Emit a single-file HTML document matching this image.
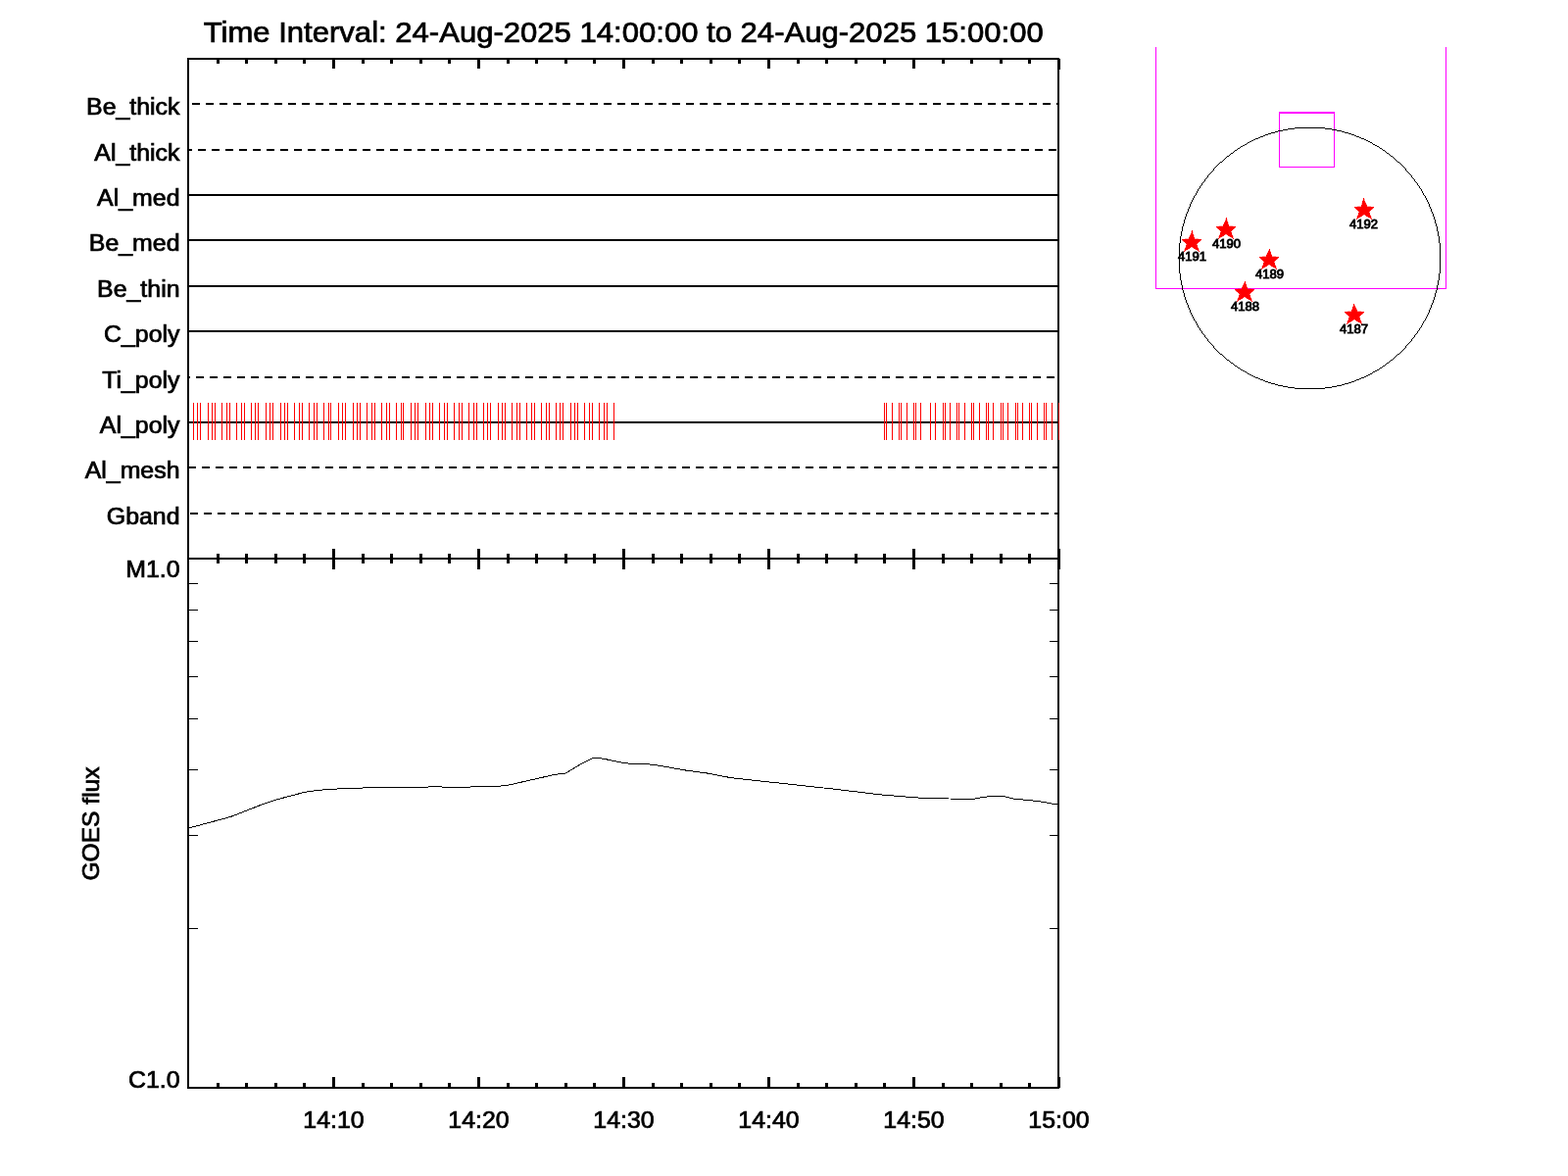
<!DOCTYPE html>
<html lang="en"><head><meta charset="utf-8"><title>XRT timeline</title>
<style>html,body{margin:0;padding:0;background:#fff}body{width:1600px;height:1200px;overflow:hidden}svg{display:block}text{font-family:"Liberation Sans",Arial,Helvetica,sans-serif;fill:#000;stroke:#000}</style></head><body>
<svg width="1600" height="1200" viewBox="0 0 1600 1200">
<rect width="1600" height="1200" fill="#fff"/>
<g shape-rendering="crispEdges">
<rect x="191" y="59" width="890" height="2" fill="#000"/>
<rect x="191" y="569" width="890" height="2" fill="#000"/>
<rect x="191" y="1109" width="890" height="2" fill="#000"/>
<rect x="191" y="59" width="2" height="1052" fill="#000"/>
<rect x="1079" y="59" width="2" height="1052" fill="#000"/>
<rect x="221" y="60" width="3" height="5" fill="#000"/>
<rect x="221" y="565" width="3" height="10" fill="#000"/>
<rect x="221" y="1105" width="3" height="5" fill="#000"/>
<rect x="250" y="60" width="3" height="5" fill="#000"/>
<rect x="250" y="565" width="3" height="10" fill="#000"/>
<rect x="250" y="1105" width="3" height="5" fill="#000"/>
<rect x="280" y="60" width="3" height="5" fill="#000"/>
<rect x="280" y="565" width="3" height="10" fill="#000"/>
<rect x="280" y="1105" width="3" height="5" fill="#000"/>
<rect x="309" y="60" width="3" height="5" fill="#000"/>
<rect x="309" y="565" width="3" height="10" fill="#000"/>
<rect x="309" y="1105" width="3" height="5" fill="#000"/>
<rect x="339" y="60" width="3" height="10" fill="#000"/>
<rect x="339" y="560" width="3" height="21" fill="#000"/>
<rect x="339" y="1099" width="3" height="11" fill="#000"/>
<rect x="369" y="60" width="3" height="5" fill="#000"/>
<rect x="369" y="565" width="3" height="10" fill="#000"/>
<rect x="369" y="1105" width="3" height="5" fill="#000"/>
<rect x="398" y="60" width="3" height="5" fill="#000"/>
<rect x="398" y="565" width="3" height="10" fill="#000"/>
<rect x="398" y="1105" width="3" height="5" fill="#000"/>
<rect x="428" y="60" width="3" height="5" fill="#000"/>
<rect x="428" y="565" width="3" height="10" fill="#000"/>
<rect x="428" y="1105" width="3" height="5" fill="#000"/>
<rect x="457" y="60" width="3" height="5" fill="#000"/>
<rect x="457" y="565" width="3" height="10" fill="#000"/>
<rect x="457" y="1105" width="3" height="5" fill="#000"/>
<rect x="487" y="60" width="3" height="10" fill="#000"/>
<rect x="487" y="560" width="3" height="21" fill="#000"/>
<rect x="487" y="1099" width="3" height="11" fill="#000"/>
<rect x="517" y="60" width="3" height="5" fill="#000"/>
<rect x="517" y="565" width="3" height="10" fill="#000"/>
<rect x="517" y="1105" width="3" height="5" fill="#000"/>
<rect x="546" y="60" width="3" height="5" fill="#000"/>
<rect x="546" y="565" width="3" height="10" fill="#000"/>
<rect x="546" y="1105" width="3" height="5" fill="#000"/>
<rect x="576" y="60" width="3" height="5" fill="#000"/>
<rect x="576" y="565" width="3" height="10" fill="#000"/>
<rect x="576" y="1105" width="3" height="5" fill="#000"/>
<rect x="605" y="60" width="3" height="5" fill="#000"/>
<rect x="605" y="565" width="3" height="10" fill="#000"/>
<rect x="605" y="1105" width="3" height="5" fill="#000"/>
<rect x="635" y="60" width="3" height="10" fill="#000"/>
<rect x="635" y="560" width="3" height="21" fill="#000"/>
<rect x="635" y="1099" width="3" height="11" fill="#000"/>
<rect x="665" y="60" width="3" height="5" fill="#000"/>
<rect x="665" y="565" width="3" height="10" fill="#000"/>
<rect x="665" y="1105" width="3" height="5" fill="#000"/>
<rect x="694" y="60" width="3" height="5" fill="#000"/>
<rect x="694" y="565" width="3" height="10" fill="#000"/>
<rect x="694" y="1105" width="3" height="5" fill="#000"/>
<rect x="724" y="60" width="3" height="5" fill="#000"/>
<rect x="724" y="565" width="3" height="10" fill="#000"/>
<rect x="724" y="1105" width="3" height="5" fill="#000"/>
<rect x="753" y="60" width="3" height="5" fill="#000"/>
<rect x="753" y="565" width="3" height="10" fill="#000"/>
<rect x="753" y="1105" width="3" height="5" fill="#000"/>
<rect x="783" y="60" width="3" height="10" fill="#000"/>
<rect x="783" y="560" width="3" height="21" fill="#000"/>
<rect x="783" y="1099" width="3" height="11" fill="#000"/>
<rect x="813" y="60" width="3" height="5" fill="#000"/>
<rect x="813" y="565" width="3" height="10" fill="#000"/>
<rect x="813" y="1105" width="3" height="5" fill="#000"/>
<rect x="842" y="60" width="3" height="5" fill="#000"/>
<rect x="842" y="565" width="3" height="10" fill="#000"/>
<rect x="842" y="1105" width="3" height="5" fill="#000"/>
<rect x="872" y="60" width="3" height="5" fill="#000"/>
<rect x="872" y="565" width="3" height="10" fill="#000"/>
<rect x="872" y="1105" width="3" height="5" fill="#000"/>
<rect x="901" y="60" width="3" height="5" fill="#000"/>
<rect x="901" y="565" width="3" height="10" fill="#000"/>
<rect x="901" y="1105" width="3" height="5" fill="#000"/>
<rect x="931" y="60" width="3" height="10" fill="#000"/>
<rect x="931" y="560" width="3" height="21" fill="#000"/>
<rect x="931" y="1099" width="3" height="11" fill="#000"/>
<rect x="961" y="60" width="3" height="5" fill="#000"/>
<rect x="961" y="565" width="3" height="10" fill="#000"/>
<rect x="961" y="1105" width="3" height="5" fill="#000"/>
<rect x="990" y="60" width="3" height="5" fill="#000"/>
<rect x="990" y="565" width="3" height="10" fill="#000"/>
<rect x="990" y="1105" width="3" height="5" fill="#000"/>
<rect x="1020" y="60" width="3" height="5" fill="#000"/>
<rect x="1020" y="565" width="3" height="10" fill="#000"/>
<rect x="1020" y="1105" width="3" height="5" fill="#000"/>
<rect x="1049" y="60" width="3" height="5" fill="#000"/>
<rect x="1049" y="565" width="3" height="10" fill="#000"/>
<rect x="1049" y="1105" width="3" height="5" fill="#000"/>
<rect x="1079" y="60" width="3" height="11" fill="#000"/>
<rect x="1079" y="560" width="3" height="21" fill="#000"/>
<rect x="1079" y="1099" width="3" height="11" fill="#000"/>
<rect x="192" y="947" width="10" height="1" fill="#000"/>
<rect x="1071" y="947" width="9" height="1" fill="#000"/>
<rect x="192" y="852" width="10" height="1" fill="#000"/>
<rect x="1071" y="852" width="9" height="1" fill="#000"/>
<rect x="192" y="785" width="10" height="1" fill="#000"/>
<rect x="1071" y="785" width="9" height="1" fill="#000"/>
<rect x="192" y="733" width="10" height="1" fill="#000"/>
<rect x="1071" y="733" width="9" height="1" fill="#000"/>
<rect x="192" y="690" width="10" height="1" fill="#000"/>
<rect x="1071" y="690" width="9" height="1" fill="#000"/>
<rect x="192" y="654" width="10" height="1" fill="#000"/>
<rect x="1071" y="654" width="9" height="1" fill="#000"/>
<rect x="192" y="622" width="10" height="1" fill="#000"/>
<rect x="1071" y="622" width="9" height="1" fill="#000"/>
<rect x="192" y="595" width="10" height="1" fill="#000"/>
<rect x="1071" y="595" width="9" height="1" fill="#000"/>
<rect x="196" y="105" width="8" height="2" fill="#000"/>
<rect x="210" y="105" width="8" height="2" fill="#000"/>
<rect x="224" y="105" width="8" height="2" fill="#000"/>
<rect x="238" y="105" width="8" height="2" fill="#000"/>
<rect x="252" y="105" width="8" height="2" fill="#000"/>
<rect x="266" y="105" width="8" height="2" fill="#000"/>
<rect x="280" y="105" width="8" height="2" fill="#000"/>
<rect x="294" y="105" width="8" height="2" fill="#000"/>
<rect x="308" y="105" width="8" height="2" fill="#000"/>
<rect x="322" y="105" width="8" height="2" fill="#000"/>
<rect x="336" y="105" width="8" height="2" fill="#000"/>
<rect x="350" y="105" width="8" height="2" fill="#000"/>
<rect x="364" y="105" width="8" height="2" fill="#000"/>
<rect x="378" y="105" width="8" height="2" fill="#000"/>
<rect x="392" y="105" width="8" height="2" fill="#000"/>
<rect x="406" y="105" width="8" height="2" fill="#000"/>
<rect x="420" y="105" width="8" height="2" fill="#000"/>
<rect x="434" y="105" width="8" height="2" fill="#000"/>
<rect x="448" y="105" width="8" height="2" fill="#000"/>
<rect x="462" y="105" width="8" height="2" fill="#000"/>
<rect x="476" y="105" width="8" height="2" fill="#000"/>
<rect x="490" y="105" width="8" height="2" fill="#000"/>
<rect x="504" y="105" width="8" height="2" fill="#000"/>
<rect x="518" y="105" width="8" height="2" fill="#000"/>
<rect x="532" y="105" width="8" height="2" fill="#000"/>
<rect x="546" y="105" width="8" height="2" fill="#000"/>
<rect x="560" y="105" width="8" height="2" fill="#000"/>
<rect x="574" y="105" width="8" height="2" fill="#000"/>
<rect x="588" y="105" width="8" height="2" fill="#000"/>
<rect x="602" y="105" width="8" height="2" fill="#000"/>
<rect x="616" y="105" width="8" height="2" fill="#000"/>
<rect x="630" y="105" width="8" height="2" fill="#000"/>
<rect x="644" y="105" width="8" height="2" fill="#000"/>
<rect x="658" y="105" width="8" height="2" fill="#000"/>
<rect x="672" y="105" width="8" height="2" fill="#000"/>
<rect x="686" y="105" width="8" height="2" fill="#000"/>
<rect x="700" y="105" width="8" height="2" fill="#000"/>
<rect x="714" y="105" width="8" height="2" fill="#000"/>
<rect x="728" y="105" width="8" height="2" fill="#000"/>
<rect x="742" y="105" width="8" height="2" fill="#000"/>
<rect x="756" y="105" width="8" height="2" fill="#000"/>
<rect x="770" y="105" width="8" height="2" fill="#000"/>
<rect x="784" y="105" width="8" height="2" fill="#000"/>
<rect x="798" y="105" width="8" height="2" fill="#000"/>
<rect x="812" y="105" width="8" height="2" fill="#000"/>
<rect x="826" y="105" width="8" height="2" fill="#000"/>
<rect x="840" y="105" width="8" height="2" fill="#000"/>
<rect x="854" y="105" width="8" height="2" fill="#000"/>
<rect x="868" y="105" width="8" height="2" fill="#000"/>
<rect x="882" y="105" width="8" height="2" fill="#000"/>
<rect x="896" y="105" width="8" height="2" fill="#000"/>
<rect x="910" y="105" width="8" height="2" fill="#000"/>
<rect x="924" y="105" width="8" height="2" fill="#000"/>
<rect x="938" y="105" width="8" height="2" fill="#000"/>
<rect x="952" y="105" width="8" height="2" fill="#000"/>
<rect x="966" y="105" width="8" height="2" fill="#000"/>
<rect x="980" y="105" width="8" height="2" fill="#000"/>
<rect x="994" y="105" width="8" height="2" fill="#000"/>
<rect x="1008" y="105" width="8" height="2" fill="#000"/>
<rect x="1022" y="105" width="8" height="2" fill="#000"/>
<rect x="1036" y="105" width="8" height="2" fill="#000"/>
<rect x="1050" y="105" width="8" height="2" fill="#000"/>
<rect x="1064" y="105" width="8" height="2" fill="#000"/>
<rect x="1078" y="105" width="1" height="2" fill="#000"/>
<rect x="193" y="152" width="3" height="2" fill="#000"/>
<rect x="202" y="152" width="8" height="2" fill="#000"/>
<rect x="216" y="152" width="8" height="2" fill="#000"/>
<rect x="230" y="152" width="8" height="2" fill="#000"/>
<rect x="244" y="152" width="8" height="2" fill="#000"/>
<rect x="258" y="152" width="8" height="2" fill="#000"/>
<rect x="272" y="152" width="8" height="2" fill="#000"/>
<rect x="286" y="152" width="8" height="2" fill="#000"/>
<rect x="300" y="152" width="8" height="2" fill="#000"/>
<rect x="314" y="152" width="8" height="2" fill="#000"/>
<rect x="328" y="152" width="8" height="2" fill="#000"/>
<rect x="342" y="152" width="8" height="2" fill="#000"/>
<rect x="356" y="152" width="8" height="2" fill="#000"/>
<rect x="370" y="152" width="8" height="2" fill="#000"/>
<rect x="384" y="152" width="8" height="2" fill="#000"/>
<rect x="398" y="152" width="8" height="2" fill="#000"/>
<rect x="412" y="152" width="8" height="2" fill="#000"/>
<rect x="426" y="152" width="8" height="2" fill="#000"/>
<rect x="440" y="152" width="8" height="2" fill="#000"/>
<rect x="454" y="152" width="8" height="2" fill="#000"/>
<rect x="468" y="152" width="8" height="2" fill="#000"/>
<rect x="482" y="152" width="8" height="2" fill="#000"/>
<rect x="496" y="152" width="8" height="2" fill="#000"/>
<rect x="510" y="152" width="8" height="2" fill="#000"/>
<rect x="524" y="152" width="8" height="2" fill="#000"/>
<rect x="538" y="152" width="8" height="2" fill="#000"/>
<rect x="552" y="152" width="8" height="2" fill="#000"/>
<rect x="566" y="152" width="8" height="2" fill="#000"/>
<rect x="580" y="152" width="8" height="2" fill="#000"/>
<rect x="594" y="152" width="8" height="2" fill="#000"/>
<rect x="608" y="152" width="8" height="2" fill="#000"/>
<rect x="622" y="152" width="8" height="2" fill="#000"/>
<rect x="636" y="152" width="8" height="2" fill="#000"/>
<rect x="650" y="152" width="8" height="2" fill="#000"/>
<rect x="664" y="152" width="8" height="2" fill="#000"/>
<rect x="678" y="152" width="8" height="2" fill="#000"/>
<rect x="692" y="152" width="8" height="2" fill="#000"/>
<rect x="706" y="152" width="8" height="2" fill="#000"/>
<rect x="720" y="152" width="8" height="2" fill="#000"/>
<rect x="734" y="152" width="8" height="2" fill="#000"/>
<rect x="748" y="152" width="8" height="2" fill="#000"/>
<rect x="762" y="152" width="8" height="2" fill="#000"/>
<rect x="776" y="152" width="8" height="2" fill="#000"/>
<rect x="790" y="152" width="8" height="2" fill="#000"/>
<rect x="804" y="152" width="8" height="2" fill="#000"/>
<rect x="818" y="152" width="8" height="2" fill="#000"/>
<rect x="832" y="152" width="8" height="2" fill="#000"/>
<rect x="846" y="152" width="8" height="2" fill="#000"/>
<rect x="860" y="152" width="8" height="2" fill="#000"/>
<rect x="874" y="152" width="8" height="2" fill="#000"/>
<rect x="888" y="152" width="8" height="2" fill="#000"/>
<rect x="902" y="152" width="8" height="2" fill="#000"/>
<rect x="916" y="152" width="8" height="2" fill="#000"/>
<rect x="930" y="152" width="8" height="2" fill="#000"/>
<rect x="944" y="152" width="8" height="2" fill="#000"/>
<rect x="958" y="152" width="8" height="2" fill="#000"/>
<rect x="972" y="152" width="8" height="2" fill="#000"/>
<rect x="986" y="152" width="8" height="2" fill="#000"/>
<rect x="1000" y="152" width="8" height="2" fill="#000"/>
<rect x="1014" y="152" width="8" height="2" fill="#000"/>
<rect x="1028" y="152" width="8" height="2" fill="#000"/>
<rect x="1042" y="152" width="8" height="2" fill="#000"/>
<rect x="1056" y="152" width="8" height="2" fill="#000"/>
<rect x="1070" y="152" width="8" height="2" fill="#000"/>
<rect x="192" y="198" width="888" height="2" fill="#000"/>
<rect x="192" y="244" width="888" height="2" fill="#000"/>
<rect x="192" y="291" width="888" height="2" fill="#000"/>
<rect x="192" y="337" width="888" height="2" fill="#000"/>
<rect x="193" y="384" width="1" height="2" fill="#000"/>
<rect x="200" y="384" width="8" height="2" fill="#000"/>
<rect x="214" y="384" width="8" height="2" fill="#000"/>
<rect x="228" y="384" width="8" height="2" fill="#000"/>
<rect x="242" y="384" width="8" height="2" fill="#000"/>
<rect x="256" y="384" width="8" height="2" fill="#000"/>
<rect x="270" y="384" width="8" height="2" fill="#000"/>
<rect x="284" y="384" width="8" height="2" fill="#000"/>
<rect x="298" y="384" width="8" height="2" fill="#000"/>
<rect x="312" y="384" width="8" height="2" fill="#000"/>
<rect x="326" y="384" width="8" height="2" fill="#000"/>
<rect x="340" y="384" width="8" height="2" fill="#000"/>
<rect x="354" y="384" width="8" height="2" fill="#000"/>
<rect x="368" y="384" width="8" height="2" fill="#000"/>
<rect x="382" y="384" width="8" height="2" fill="#000"/>
<rect x="396" y="384" width="8" height="2" fill="#000"/>
<rect x="410" y="384" width="8" height="2" fill="#000"/>
<rect x="424" y="384" width="8" height="2" fill="#000"/>
<rect x="438" y="384" width="8" height="2" fill="#000"/>
<rect x="452" y="384" width="8" height="2" fill="#000"/>
<rect x="466" y="384" width="8" height="2" fill="#000"/>
<rect x="480" y="384" width="8" height="2" fill="#000"/>
<rect x="494" y="384" width="8" height="2" fill="#000"/>
<rect x="508" y="384" width="8" height="2" fill="#000"/>
<rect x="522" y="384" width="8" height="2" fill="#000"/>
<rect x="536" y="384" width="8" height="2" fill="#000"/>
<rect x="550" y="384" width="8" height="2" fill="#000"/>
<rect x="564" y="384" width="8" height="2" fill="#000"/>
<rect x="578" y="384" width="8" height="2" fill="#000"/>
<rect x="592" y="384" width="8" height="2" fill="#000"/>
<rect x="606" y="384" width="8" height="2" fill="#000"/>
<rect x="620" y="384" width="8" height="2" fill="#000"/>
<rect x="634" y="384" width="8" height="2" fill="#000"/>
<rect x="648" y="384" width="8" height="2" fill="#000"/>
<rect x="662" y="384" width="8" height="2" fill="#000"/>
<rect x="676" y="384" width="8" height="2" fill="#000"/>
<rect x="690" y="384" width="8" height="2" fill="#000"/>
<rect x="704" y="384" width="8" height="2" fill="#000"/>
<rect x="718" y="384" width="8" height="2" fill="#000"/>
<rect x="732" y="384" width="8" height="2" fill="#000"/>
<rect x="746" y="384" width="8" height="2" fill="#000"/>
<rect x="760" y="384" width="8" height="2" fill="#000"/>
<rect x="774" y="384" width="8" height="2" fill="#000"/>
<rect x="788" y="384" width="8" height="2" fill="#000"/>
<rect x="802" y="384" width="8" height="2" fill="#000"/>
<rect x="816" y="384" width="8" height="2" fill="#000"/>
<rect x="830" y="384" width="8" height="2" fill="#000"/>
<rect x="844" y="384" width="8" height="2" fill="#000"/>
<rect x="858" y="384" width="8" height="2" fill="#000"/>
<rect x="872" y="384" width="8" height="2" fill="#000"/>
<rect x="886" y="384" width="8" height="2" fill="#000"/>
<rect x="900" y="384" width="8" height="2" fill="#000"/>
<rect x="914" y="384" width="8" height="2" fill="#000"/>
<rect x="928" y="384" width="8" height="2" fill="#000"/>
<rect x="942" y="384" width="8" height="2" fill="#000"/>
<rect x="956" y="384" width="8" height="2" fill="#000"/>
<rect x="970" y="384" width="8" height="2" fill="#000"/>
<rect x="984" y="384" width="8" height="2" fill="#000"/>
<rect x="998" y="384" width="8" height="2" fill="#000"/>
<rect x="1012" y="384" width="8" height="2" fill="#000"/>
<rect x="1026" y="384" width="8" height="2" fill="#000"/>
<rect x="1040" y="384" width="8" height="2" fill="#000"/>
<rect x="1054" y="384" width="8" height="2" fill="#000"/>
<rect x="1068" y="384" width="8" height="2" fill="#000"/>
<rect x="192" y="430" width="888" height="2" fill="#000"/>
<rect x="193" y="476" width="7" height="2" fill="#000"/>
<rect x="206" y="476" width="8" height="2" fill="#000"/>
<rect x="220" y="476" width="8" height="2" fill="#000"/>
<rect x="234" y="476" width="8" height="2" fill="#000"/>
<rect x="248" y="476" width="8" height="2" fill="#000"/>
<rect x="262" y="476" width="8" height="2" fill="#000"/>
<rect x="276" y="476" width="8" height="2" fill="#000"/>
<rect x="290" y="476" width="8" height="2" fill="#000"/>
<rect x="304" y="476" width="8" height="2" fill="#000"/>
<rect x="318" y="476" width="8" height="2" fill="#000"/>
<rect x="332" y="476" width="8" height="2" fill="#000"/>
<rect x="346" y="476" width="8" height="2" fill="#000"/>
<rect x="360" y="476" width="8" height="2" fill="#000"/>
<rect x="374" y="476" width="8" height="2" fill="#000"/>
<rect x="388" y="476" width="8" height="2" fill="#000"/>
<rect x="402" y="476" width="8" height="2" fill="#000"/>
<rect x="416" y="476" width="8" height="2" fill="#000"/>
<rect x="430" y="476" width="8" height="2" fill="#000"/>
<rect x="444" y="476" width="8" height="2" fill="#000"/>
<rect x="458" y="476" width="8" height="2" fill="#000"/>
<rect x="472" y="476" width="8" height="2" fill="#000"/>
<rect x="486" y="476" width="8" height="2" fill="#000"/>
<rect x="500" y="476" width="8" height="2" fill="#000"/>
<rect x="514" y="476" width="8" height="2" fill="#000"/>
<rect x="528" y="476" width="8" height="2" fill="#000"/>
<rect x="542" y="476" width="8" height="2" fill="#000"/>
<rect x="556" y="476" width="8" height="2" fill="#000"/>
<rect x="570" y="476" width="8" height="2" fill="#000"/>
<rect x="584" y="476" width="8" height="2" fill="#000"/>
<rect x="598" y="476" width="8" height="2" fill="#000"/>
<rect x="612" y="476" width="8" height="2" fill="#000"/>
<rect x="626" y="476" width="8" height="2" fill="#000"/>
<rect x="640" y="476" width="8" height="2" fill="#000"/>
<rect x="654" y="476" width="8" height="2" fill="#000"/>
<rect x="668" y="476" width="8" height="2" fill="#000"/>
<rect x="682" y="476" width="8" height="2" fill="#000"/>
<rect x="696" y="476" width="8" height="2" fill="#000"/>
<rect x="710" y="476" width="8" height="2" fill="#000"/>
<rect x="724" y="476" width="8" height="2" fill="#000"/>
<rect x="738" y="476" width="8" height="2" fill="#000"/>
<rect x="752" y="476" width="8" height="2" fill="#000"/>
<rect x="766" y="476" width="8" height="2" fill="#000"/>
<rect x="780" y="476" width="8" height="2" fill="#000"/>
<rect x="794" y="476" width="8" height="2" fill="#000"/>
<rect x="808" y="476" width="8" height="2" fill="#000"/>
<rect x="822" y="476" width="8" height="2" fill="#000"/>
<rect x="836" y="476" width="8" height="2" fill="#000"/>
<rect x="850" y="476" width="8" height="2" fill="#000"/>
<rect x="864" y="476" width="8" height="2" fill="#000"/>
<rect x="878" y="476" width="8" height="2" fill="#000"/>
<rect x="892" y="476" width="8" height="2" fill="#000"/>
<rect x="906" y="476" width="8" height="2" fill="#000"/>
<rect x="920" y="476" width="8" height="2" fill="#000"/>
<rect x="934" y="476" width="8" height="2" fill="#000"/>
<rect x="948" y="476" width="8" height="2" fill="#000"/>
<rect x="962" y="476" width="8" height="2" fill="#000"/>
<rect x="976" y="476" width="8" height="2" fill="#000"/>
<rect x="990" y="476" width="8" height="2" fill="#000"/>
<rect x="1004" y="476" width="8" height="2" fill="#000"/>
<rect x="1018" y="476" width="8" height="2" fill="#000"/>
<rect x="1032" y="476" width="8" height="2" fill="#000"/>
<rect x="1046" y="476" width="8" height="2" fill="#000"/>
<rect x="1060" y="476" width="8" height="2" fill="#000"/>
<rect x="1074" y="476" width="5" height="2" fill="#000"/>
<rect x="194" y="523" width="8" height="2" fill="#000"/>
<rect x="208" y="523" width="8" height="2" fill="#000"/>
<rect x="222" y="523" width="8" height="2" fill="#000"/>
<rect x="236" y="523" width="8" height="2" fill="#000"/>
<rect x="250" y="523" width="8" height="2" fill="#000"/>
<rect x="264" y="523" width="8" height="2" fill="#000"/>
<rect x="278" y="523" width="8" height="2" fill="#000"/>
<rect x="292" y="523" width="8" height="2" fill="#000"/>
<rect x="306" y="523" width="8" height="2" fill="#000"/>
<rect x="320" y="523" width="8" height="2" fill="#000"/>
<rect x="334" y="523" width="8" height="2" fill="#000"/>
<rect x="348" y="523" width="8" height="2" fill="#000"/>
<rect x="362" y="523" width="8" height="2" fill="#000"/>
<rect x="376" y="523" width="8" height="2" fill="#000"/>
<rect x="390" y="523" width="8" height="2" fill="#000"/>
<rect x="404" y="523" width="8" height="2" fill="#000"/>
<rect x="418" y="523" width="8" height="2" fill="#000"/>
<rect x="432" y="523" width="8" height="2" fill="#000"/>
<rect x="446" y="523" width="8" height="2" fill="#000"/>
<rect x="460" y="523" width="8" height="2" fill="#000"/>
<rect x="474" y="523" width="8" height="2" fill="#000"/>
<rect x="488" y="523" width="8" height="2" fill="#000"/>
<rect x="502" y="523" width="8" height="2" fill="#000"/>
<rect x="516" y="523" width="8" height="2" fill="#000"/>
<rect x="530" y="523" width="8" height="2" fill="#000"/>
<rect x="544" y="523" width="8" height="2" fill="#000"/>
<rect x="558" y="523" width="8" height="2" fill="#000"/>
<rect x="572" y="523" width="8" height="2" fill="#000"/>
<rect x="586" y="523" width="8" height="2" fill="#000"/>
<rect x="600" y="523" width="8" height="2" fill="#000"/>
<rect x="614" y="523" width="8" height="2" fill="#000"/>
<rect x="628" y="523" width="8" height="2" fill="#000"/>
<rect x="642" y="523" width="8" height="2" fill="#000"/>
<rect x="656" y="523" width="8" height="2" fill="#000"/>
<rect x="670" y="523" width="8" height="2" fill="#000"/>
<rect x="684" y="523" width="8" height="2" fill="#000"/>
<rect x="698" y="523" width="8" height="2" fill="#000"/>
<rect x="712" y="523" width="8" height="2" fill="#000"/>
<rect x="726" y="523" width="8" height="2" fill="#000"/>
<rect x="740" y="523" width="8" height="2" fill="#000"/>
<rect x="754" y="523" width="8" height="2" fill="#000"/>
<rect x="768" y="523" width="8" height="2" fill="#000"/>
<rect x="782" y="523" width="8" height="2" fill="#000"/>
<rect x="796" y="523" width="8" height="2" fill="#000"/>
<rect x="810" y="523" width="8" height="2" fill="#000"/>
<rect x="824" y="523" width="8" height="2" fill="#000"/>
<rect x="838" y="523" width="8" height="2" fill="#000"/>
<rect x="852" y="523" width="8" height="2" fill="#000"/>
<rect x="866" y="523" width="8" height="2" fill="#000"/>
<rect x="880" y="523" width="8" height="2" fill="#000"/>
<rect x="894" y="523" width="8" height="2" fill="#000"/>
<rect x="908" y="523" width="8" height="2" fill="#000"/>
<rect x="922" y="523" width="8" height="2" fill="#000"/>
<rect x="936" y="523" width="8" height="2" fill="#000"/>
<rect x="950" y="523" width="8" height="2" fill="#000"/>
<rect x="964" y="523" width="8" height="2" fill="#000"/>
<rect x="978" y="523" width="8" height="2" fill="#000"/>
<rect x="992" y="523" width="8" height="2" fill="#000"/>
<rect x="1006" y="523" width="8" height="2" fill="#000"/>
<rect x="1020" y="523" width="8" height="2" fill="#000"/>
<rect x="1034" y="523" width="8" height="2" fill="#000"/>
<rect x="1048" y="523" width="8" height="2" fill="#000"/>
<rect x="1062" y="523" width="8" height="2" fill="#000"/>
<rect x="1076" y="523" width="3" height="2" fill="#000"/>
</g>
<path d="M197.5 411V449M201.5 411V449M204.5 411V449M212.5 411V449M216.5 411V449M219.5 411V449M226.5 411V449M231.5 411V449M234.5 411V449M241.5 411V449M246.5 411V449M249.5 411V449M256.5 411V449M260.5 411V449M263.5 411V449M271.5 411V449M275.5 411V449M278.5 411V449M286.5 411V449M290.5 411V449M293.5 411V449M300.5 411V449M305.5 411V449M308.5 411V449M315.5 411V449M320.5 411V449M323.5 411V449M330.5 411V449M335.5 411V449M337.5 411V449M345.5 411V449M349.5 411V449M352.5 411V449M360.5 411V449M364.5 411V449M367.5 411V449M374.5 411V449M379.5 411V449M382.5 411V449M389.5 411V449M394.5 411V449M397.5 411V449M404.5 411V449M409.5 411V449M411.5 411V449M419.5 411V449M423.5 411V449M426.5 411V449M434.5 411V449M438.5 411V449M441.5 411V449M448.5 411V449M453.5 411V449M456.5 411V449M463.5 411V449M468.5 411V449M471.5 411V449M478.5 411V449M483.5 411V449M486.5 411V449M493.5 411V449M497.5 411V449M500.5 411V449M508.5 411V449M512.5 411V449M515.5 411V449M522.5 411V449M527.5 411V449M530.5 411V449M537.5 411V449M542.5 411V449M545.5 411V449M552.5 411V449M557.5 411V449M560.5 411V449M567.5 411V449M571.5 411V449M574.5 411V449M582.5 411V449M586.5 411V449M589.5 411V449M596.5 411V449M601.5 411V449M604.5 411V449M611.5 411V449M616.5 411V449M619.5 411V449M626.5 411V449M902.5 411V449M904.5 411V449M910.5 411V449M917.5 411V449M919.5 411V449M925.5 411V449M932.5 411V449M934.5 411V449M939.5 411V449M949.5 411V449M954.5 411V449M962.5 411V449M964.5 411V449M969.5 411V449M976.5 411V449M978.5 411V449M984.5 411V449M991.5 411V449M993.5 411V449M999.5 411V449M1006.5 411V449M1008.5 411V449M1013.5 411V449M1021.5 411V449M1023.5 411V449M1028.5 411V449M1036.5 411V449M1038.5 411V449M1043.5 411V449M1050.5 411V449M1052.5 411V449M1058.5 411V449M1065.5 411V449M1067.5 411V449M1073.5 411V449M1080.5 411V449" stroke="#f00" stroke-width="1" fill="none" shape-rendering="crispEdges"/>
<polyline fill="none" stroke="#000" stroke-width="1" shape-rendering="crispEdges" points="192.5,845 235.6,833.4 265.6,821.6 282.5,815.9 310.6,808.4 323.75,806.4 348.1,804.7 378.1,803.75 436,803.6 437.5,802.4 450,802.4 451.5,803.5 479,803.4 482,802.5 510.3,802.1 519.7,800.9 566.6,790.25 576.9,789.3 593.75,779 605.9,773.2 608.75,773.2 618.1,774.7 635,778.25 644.4,779.4 657.5,779.4 669.7,780.7 698.75,785.9 722.2,789.1 745.6,793.6 770,796.4 790,798.5 851.9,805.25 898.75,810.9 925,813.1 940,814.25 968.1,815 994.4,815.2 1002.8,813.5 1015,812.2 1023.4,812.2 1033.75,815 1060,817.6 1078.75,821"/>
<text transform="translate(183.5,117) scale(1.0545,1)" font-size="23.6" text-anchor="end" stroke-width="0.75">Be_thick</text>
<text transform="translate(183.5,164) scale(1.0545,1)" font-size="23.6" text-anchor="end" stroke-width="0.75">Al_thick</text>
<text transform="translate(183.5,210) scale(1.0545,1)" font-size="23.6" text-anchor="end" stroke-width="0.75">Al_med</text>
<text transform="translate(183.5,256) scale(1.0545,1)" font-size="23.6" text-anchor="end" stroke-width="0.75">Be_med</text>
<text transform="translate(183.5,303) scale(1.0545,1)" font-size="23.6" text-anchor="end" stroke-width="0.75">Be_thin</text>
<text transform="translate(183.5,349) scale(1.0545,1)" font-size="23.6" text-anchor="end" stroke-width="0.75">C_poly</text>
<text transform="translate(183.5,396) scale(1.0545,1)" font-size="23.6" text-anchor="end" stroke-width="0.75">Ti_poly</text>
<text transform="translate(183.5,442) scale(1.0545,1)" font-size="23.6" text-anchor="end" stroke-width="0.75">Al_poly</text>
<text transform="translate(183.5,488) scale(1.0545,1)" font-size="23.6" text-anchor="end" stroke-width="0.75">Al_mesh</text>
<text transform="translate(183.5,535) scale(1.0545,1)" font-size="23.6" text-anchor="end" stroke-width="0.75">Gband</text>
<text transform="translate(183.5,589) scale(1.0545,1)" font-size="23.6" text-anchor="end" stroke-width="0.75">M1.0</text>
<text transform="translate(183.5,1109.5) scale(1.0545,1)" font-size="23.6" text-anchor="end" stroke-width="0.75">C1.0</text>
<text transform="translate(340.5,1151) scale(1.0545,1)" font-size="23.6" text-anchor="middle" stroke-width="0.75">14:10</text>
<text transform="translate(488.5,1151) scale(1.0545,1)" font-size="23.6" text-anchor="middle" stroke-width="0.75">14:20</text>
<text transform="translate(636.5,1151) scale(1.0545,1)" font-size="23.6" text-anchor="middle" stroke-width="0.75">14:30</text>
<text transform="translate(784.5,1151) scale(1.0545,1)" font-size="23.6" text-anchor="middle" stroke-width="0.75">14:40</text>
<text transform="translate(932.5,1151) scale(1.0545,1)" font-size="23.6" text-anchor="middle" stroke-width="0.75">14:50</text>
<text transform="translate(1080.5,1151) scale(1.0545,1)" font-size="23.6" text-anchor="middle" stroke-width="0.75">15:00</text>
<text transform="translate(100.6,840.5) rotate(-90) scale(1.042,1)" font-size="23.6" text-anchor="middle" stroke-width="0.75">GOES flux</text>
<text transform="translate(636.2,42.8) scale(1.057,1)" font-size="29.4" text-anchor="middle" stroke-width="0.75">Time Interval: 24-Aug-2025 14:00:00 to 24-Aug-2025 15:00:00</text>
<g shape-rendering="crispEdges" fill="none" stroke-width="1">
<path d="M1179.5 48V294.5H1475.5V48" stroke="#f0f"/>
<rect x="1305.5" y="115.5" width="56" height="55" stroke="#f0f"/>
<path d="M1305 114.5H1362" stroke="#f0f"/>

</g>
<path fill="#000" shape-rendering="crispEdges" d="M1321 130h31v1h-31zM1314 131h7v1h-7zM1352 131h7v1h-7zM1309 132h5v1h-5zM1359 132h5v1h-5zM1304 133h5v1h-5zM1364 133h5v1h-5zM1301 134h3v1h-3zM1369 134h3v1h-3zM1297 135h4v1h-4zM1372 135h4v1h-4zM1294 136h3v1h-3zM1376 136h3v1h-3zM1291 137h3v1h-3zM1379 137h3v1h-3zM1289 138h2v1h-2zM1382 138h2v1h-2zM1286 139h3v1h-3zM1384 139h3v1h-3zM1284 140h2v1h-2zM1387 140h2v1h-2zM1281 141h3v1h-3zM1389 141h3v1h-3zM1279 142h2v1h-2zM1392 142h2v1h-2zM1277 143h2v1h-2zM1394 143h2v1h-2zM1275 144h2v1h-2zM1396 144h2v1h-2zM1273 145h2v1h-2zM1398 145h2v1h-2zM1272 146h1v1h-1zM1400 146h1v1h-1zM1270 147h2v1h-2zM1401 147h2v1h-2zM1268 148h2v1h-2zM1403 148h2v1h-2zM1266 149h2v1h-2zM1405 149h2v1h-2zM1265 150h1v1h-1zM1407 150h1v1h-1zM1263 151h2v1h-2zM1408 151h2v1h-2zM1262 152h1v1h-1zM1410 152h1v1h-1zM1260 153h2v1h-2zM1411 153h2v1h-2zM1259 154h1v1h-1zM1413 154h1v1h-1zM1258 155h1v1h-1zM1414 155h1v1h-1zM1256 156h2v1h-2zM1415 156h2v1h-2zM1255 157h1v1h-1zM1417 157h1v1h-1zM1254 158h1v1h-1zM1418 158h1v1h-1zM1252 159h2v1h-2zM1419 159h2v1h-2zM1251 160h1v1h-1zM1421 160h1v1h-1zM1250 161h1v1h-1zM1422 161h1v1h-1zM1249 162h1v1h-1zM1423 162h1v1h-1zM1248 163h1v1h-1zM1424 163h1v1h-1zM1247 164h1v1h-1zM1425 164h1v1h-1zM1245 165h2v1h-2zM1426 165h2v1h-2zM1244 166h1v1h-1zM1428 166h1v1h-1zM1243 167h1v1h-1zM1429 167h1v1h-1zM1242 168h1v1h-1zM1430 168h1v1h-1zM1241 169h1v1h-1zM1431 169h1v1h-1zM1240 170h1v1h-1zM1432 170h1v1h-1zM1239 171h1v1h-1zM1433 171h1v1h-1zM1238 172h1v1h-1zM1434 172h1v1h-1zM1238 173h1v1h-1zM1434 173h1v1h-1zM1237 174h1v1h-1zM1435 174h1v1h-1zM1236 175h1v1h-1zM1436 175h1v1h-1zM1235 176h1v1h-1zM1437 176h1v1h-1zM1234 177h1v1h-1zM1438 177h1v1h-1zM1233 178h1v1h-1zM1439 178h1v1h-1zM1232 179h1v1h-1zM1440 179h1v1h-1zM1232 180h1v1h-1zM1440 180h1v1h-1zM1231 181h1v1h-1zM1441 181h1v1h-1zM1230 182h1v1h-1zM1442 182h1v1h-1zM1229 183h1v1h-1zM1443 183h1v1h-1zM1229 184h1v1h-1zM1443 184h1v1h-1zM1228 185h1v1h-1zM1444 185h1v1h-1zM1227 186h1v1h-1zM1445 186h1v1h-1zM1226 187h1v1h-1zM1446 187h1v1h-1zM1226 188h1v1h-1zM1446 188h1v1h-1zM1225 189h1v1h-1zM1447 189h1v1h-1zM1224 190h1v1h-1zM1448 190h1v1h-1zM1224 191h1v1h-1zM1448 191h1v1h-1zM1223 192h1v1h-1zM1449 192h1v1h-1zM1222 193h1v1h-1zM1450 193h1v1h-1zM1222 194h1v1h-1zM1450 194h1v1h-1zM1221 195h1v1h-1zM1451 195h1v1h-1zM1221 196h1v1h-1zM1451 196h1v1h-1zM1220 197h1v1h-1zM1452 197h1v1h-1zM1220 198h1v1h-1zM1452 198h1v1h-1zM1219 199h1v1h-1zM1453 199h1v1h-1zM1218 200h1v1h-1zM1454 200h1v1h-1zM1218 201h1v1h-1zM1454 201h1v1h-1zM1217 202h1v1h-1zM1455 202h1v1h-1zM1217 203h1v1h-1zM1455 203h1v1h-1zM1216 204h1v1h-1zM1456 204h1v1h-1zM1216 205h1v1h-1zM1456 205h1v1h-1zM1215 206h1v1h-1zM1457 206h1v1h-1zM1215 207h1v1h-1zM1457 207h1v1h-1zM1214 208h1v1h-1zM1458 208h1v1h-1zM1214 209h1v1h-1zM1458 209h1v1h-1zM1214 210h1v1h-1zM1458 210h1v1h-1zM1213 211h1v1h-1zM1459 211h1v1h-1zM1213 212h1v1h-1zM1459 212h1v1h-1zM1212 213h1v1h-1zM1460 213h1v1h-1zM1212 214h1v1h-1zM1460 214h1v1h-1zM1212 215h1v1h-1zM1460 215h1v1h-1zM1211 216h1v1h-1zM1461 216h1v1h-1zM1211 217h1v1h-1zM1461 217h1v1h-1zM1210 218h1v1h-1zM1462 218h1v1h-1zM1210 219h1v1h-1zM1462 219h1v1h-1zM1210 220h1v1h-1zM1462 220h1v1h-1zM1209 221h1v1h-1zM1463 221h1v1h-1zM1209 222h1v1h-1zM1463 222h1v1h-1zM1209 223h1v1h-1zM1463 223h1v1h-1zM1208 224h1v1h-1zM1464 224h1v1h-1zM1208 225h1v1h-1zM1464 225h1v1h-1zM1208 226h1v1h-1zM1464 226h1v1h-1zM1208 227h1v1h-1zM1464 227h1v1h-1zM1207 228h1v1h-1zM1465 228h1v1h-1zM1207 229h1v1h-1zM1465 229h1v1h-1zM1207 230h1v1h-1zM1465 230h1v1h-1zM1206 231h1v1h-1zM1466 231h1v1h-1zM1206 232h1v1h-1zM1466 232h1v1h-1zM1206 233h1v1h-1zM1466 233h1v1h-1zM1206 234h1v1h-1zM1466 234h1v1h-1zM1206 235h1v1h-1zM1466 235h1v1h-1zM1205 236h1v1h-1zM1467 236h1v1h-1zM1205 237h1v1h-1zM1467 237h1v1h-1zM1205 238h1v1h-1zM1467 238h1v1h-1zM1205 239h1v1h-1zM1467 239h1v1h-1zM1205 240h1v1h-1zM1467 240h1v1h-1zM1204 241h1v1h-1zM1468 241h1v1h-1zM1204 242h1v1h-1zM1468 242h1v1h-1zM1204 243h1v1h-1zM1468 243h1v1h-1zM1204 244h1v1h-1zM1468 244h1v1h-1zM1204 245h1v1h-1zM1468 245h1v1h-1zM1204 246h1v1h-1zM1468 246h1v1h-1zM1204 247h1v1h-1zM1468 247h1v1h-1zM1203 248h1v1h-1zM1469 248h1v1h-1zM1203 249h1v1h-1zM1469 249h1v1h-1zM1203 250h1v1h-1zM1469 250h1v1h-1zM1203 251h1v1h-1zM1469 251h1v1h-1zM1203 252h1v1h-1zM1469 252h1v1h-1zM1203 253h1v1h-1zM1469 253h1v1h-1zM1203 254h1v1h-1zM1469 254h1v1h-1zM1203 255h1v1h-1zM1469 255h1v1h-1zM1203 256h1v1h-1zM1469 256h1v1h-1zM1203 257h1v1h-1zM1469 257h1v1h-1zM1203 258h1v1h-1zM1469 258h1v1h-1zM1203 259h1v1h-1zM1469 259h1v1h-1zM1203 260h1v1h-1zM1469 260h1v1h-1zM1203 261h1v1h-1zM1469 261h1v1h-1zM1203 262h1v1h-1zM1469 262h1v1h-1zM1203 263h1v1h-1zM1469 263h1v1h-1zM1203 264h1v1h-1zM1469 264h1v1h-1zM1203 265h1v1h-1zM1469 265h1v1h-1zM1203 266h1v1h-1zM1469 266h1v1h-1zM1203 267h1v1h-1zM1469 267h1v1h-1zM1203 268h1v1h-1zM1469 268h1v1h-1zM1203 269h1v1h-1zM1469 269h1v1h-1zM1203 270h1v1h-1zM1469 270h1v1h-1zM1203 271h1v1h-1zM1469 271h1v1h-1zM1203 272h1v1h-1zM1469 272h1v1h-1zM1203 273h1v1h-1zM1469 273h1v1h-1zM1203 274h1v1h-1zM1469 274h1v1h-1zM1203 275h1v1h-1zM1469 275h1v1h-1zM1203 276h1v1h-1zM1469 276h1v1h-1zM1203 277h1v1h-1zM1469 277h1v1h-1zM1203 278h1v1h-1zM1469 278h1v1h-1zM1204 279h1v1h-1zM1468 279h1v1h-1zM1204 280h1v1h-1zM1468 280h1v1h-1zM1204 281h1v1h-1zM1468 281h1v1h-1zM1204 282h1v1h-1zM1468 282h1v1h-1zM1204 283h1v1h-1zM1468 283h1v1h-1zM1204 284h1v1h-1zM1468 284h1v1h-1zM1204 285h1v1h-1zM1468 285h1v1h-1zM1205 286h1v1h-1zM1467 286h1v1h-1zM1205 287h1v1h-1zM1467 287h1v1h-1zM1205 288h1v1h-1zM1467 288h1v1h-1zM1205 289h1v1h-1zM1467 289h1v1h-1zM1205 290h1v1h-1zM1467 290h1v1h-1zM1206 291h1v1h-1zM1466 291h1v1h-1zM1206 292h1v1h-1zM1466 292h1v1h-1zM1206 293h1v1h-1zM1466 293h1v1h-1zM1206 294h1v1h-1zM1466 294h1v1h-1zM1206 295h1v1h-1zM1466 295h1v1h-1zM1207 296h1v1h-1zM1465 296h1v1h-1zM1207 297h1v1h-1zM1465 297h1v1h-1zM1207 298h1v1h-1zM1465 298h1v1h-1zM1208 299h1v1h-1zM1464 299h1v1h-1zM1208 300h1v1h-1zM1464 300h1v1h-1zM1208 301h1v1h-1zM1464 301h1v1h-1zM1208 302h1v1h-1zM1464 302h1v1h-1zM1209 303h1v1h-1zM1463 303h1v1h-1zM1209 304h1v1h-1zM1463 304h1v1h-1zM1209 305h1v1h-1zM1463 305h1v1h-1zM1210 306h1v1h-1zM1462 306h1v1h-1zM1210 307h1v1h-1zM1462 307h1v1h-1zM1210 308h1v1h-1zM1462 308h1v1h-1zM1211 309h1v1h-1zM1461 309h1v1h-1zM1211 310h1v1h-1zM1461 310h1v1h-1zM1212 311h1v1h-1zM1460 311h1v1h-1zM1212 312h1v1h-1zM1460 312h1v1h-1zM1212 313h1v1h-1zM1460 313h1v1h-1zM1213 314h1v1h-1zM1459 314h1v1h-1zM1213 315h1v1h-1zM1459 315h1v1h-1zM1214 316h1v1h-1zM1458 316h1v1h-1zM1214 317h1v1h-1zM1458 317h1v1h-1zM1214 318h1v1h-1zM1458 318h1v1h-1zM1215 319h1v1h-1zM1457 319h1v1h-1zM1215 320h1v1h-1zM1457 320h1v1h-1zM1216 321h1v1h-1zM1456 321h1v1h-1zM1216 322h1v1h-1zM1456 322h1v1h-1zM1217 323h1v1h-1zM1455 323h1v1h-1zM1217 324h1v1h-1zM1455 324h1v1h-1zM1218 325h1v1h-1zM1454 325h1v1h-1zM1218 326h1v1h-1zM1454 326h1v1h-1zM1219 327h1v1h-1zM1453 327h1v1h-1zM1220 328h1v1h-1zM1452 328h1v1h-1zM1220 329h1v1h-1zM1452 329h1v1h-1zM1221 330h1v1h-1zM1451 330h1v1h-1zM1221 331h1v1h-1zM1451 331h1v1h-1zM1222 332h1v1h-1zM1450 332h1v1h-1zM1222 333h1v1h-1zM1450 333h1v1h-1zM1223 334h1v1h-1zM1449 334h1v1h-1zM1224 335h1v1h-1zM1448 335h1v1h-1zM1224 336h1v1h-1zM1448 336h1v1h-1zM1225 337h1v1h-1zM1447 337h1v1h-1zM1226 338h1v1h-1zM1446 338h1v1h-1zM1226 339h1v1h-1zM1446 339h1v1h-1zM1227 340h1v1h-1zM1445 340h1v1h-1zM1228 341h1v1h-1zM1444 341h1v1h-1zM1229 342h1v1h-1zM1443 342h1v1h-1zM1229 343h1v1h-1zM1443 343h1v1h-1zM1230 344h1v1h-1zM1442 344h1v1h-1zM1231 345h1v1h-1zM1441 345h1v1h-1zM1232 346h1v1h-1zM1440 346h1v1h-1zM1232 347h1v1h-1zM1440 347h1v1h-1zM1233 348h1v1h-1zM1439 348h1v1h-1zM1234 349h1v1h-1zM1438 349h1v1h-1zM1235 350h1v1h-1zM1437 350h1v1h-1zM1236 351h1v1h-1zM1436 351h1v1h-1zM1237 352h1v1h-1zM1435 352h1v1h-1zM1238 353h1v1h-1zM1434 353h1v1h-1zM1238 354h1v1h-1zM1434 354h1v1h-1zM1239 355h1v1h-1zM1433 355h1v1h-1zM1240 356h1v1h-1zM1432 356h1v1h-1zM1241 357h1v1h-1zM1431 357h1v1h-1zM1242 358h1v1h-1zM1430 358h1v1h-1zM1243 359h1v1h-1zM1429 359h1v1h-1zM1244 360h1v1h-1zM1428 360h1v1h-1zM1245 361h2v1h-2zM1426 361h2v1h-2zM1247 362h1v1h-1zM1425 362h1v1h-1zM1248 363h1v1h-1zM1424 363h1v1h-1zM1249 364h1v1h-1zM1423 364h1v1h-1zM1250 365h1v1h-1zM1422 365h1v1h-1zM1251 366h1v1h-1zM1421 366h1v1h-1zM1252 367h2v1h-2zM1419 367h2v1h-2zM1254 368h1v1h-1zM1418 368h1v1h-1zM1255 369h1v1h-1zM1417 369h1v1h-1zM1256 370h2v1h-2zM1415 370h2v1h-2zM1258 371h1v1h-1zM1414 371h1v1h-1zM1259 372h1v1h-1zM1413 372h1v1h-1zM1260 373h2v1h-2zM1411 373h2v1h-2zM1262 374h1v1h-1zM1410 374h1v1h-1zM1263 375h2v1h-2zM1408 375h2v1h-2zM1265 376h1v1h-1zM1407 376h1v1h-1zM1266 377h2v1h-2zM1405 377h2v1h-2zM1268 378h2v1h-2zM1403 378h2v1h-2zM1270 379h2v1h-2zM1401 379h2v1h-2zM1272 380h1v1h-1zM1400 380h1v1h-1zM1273 381h2v1h-2zM1398 381h2v1h-2zM1275 382h2v1h-2zM1396 382h2v1h-2zM1277 383h2v1h-2zM1394 383h2v1h-2zM1279 384h2v1h-2zM1392 384h2v1h-2zM1281 385h3v1h-3zM1389 385h3v1h-3zM1284 386h2v1h-2zM1387 386h2v1h-2zM1286 387h3v1h-3zM1384 387h3v1h-3zM1289 388h2v1h-2zM1382 388h2v1h-2zM1291 389h3v1h-3zM1379 389h3v1h-3zM1294 390h3v1h-3zM1376 390h3v1h-3zM1297 391h4v1h-4zM1372 391h4v1h-4zM1301 392h3v1h-3zM1369 392h3v1h-3zM1304 393h5v1h-5zM1364 393h5v1h-5zM1309 394h5v1h-5zM1359 394h5v1h-5zM1314 395h7v1h-7zM1352 395h7v1h-7zM1321 396h31v1h-31z"/>
<polygon fill="#f00" stroke="#f00" stroke-width="0.3" shape-rendering="crispEdges" points="1391.5,202.2 1395,210.5 1402.3,211.5 1397,216 1399.9,223.8 1392,219 1384.1,223.8 1387,216 1381.7,211.5 1389,210.5"/>
<polygon fill="#f00" stroke="#f00" stroke-width="0.3" shape-rendering="crispEdges" points="1216.5,235.2 1219,243.5 1226.3,244.5 1221,249 1223.9,256.8 1216,252 1208.1,256.8 1211,249 1205.7,244.5 1213,243.5"/>
<polygon fill="#f00" stroke="#f00" stroke-width="0.3" shape-rendering="crispEdges" points="1251.5,222.2 1254,230.5 1261.3,231.5 1256,236 1258.9,243.8 1251,239 1243.1,243.8 1246,236 1240.7,231.5 1248,230.5"/>
<polygon fill="#f00" stroke="#f00" stroke-width="0.3" shape-rendering="crispEdges" points="1295.5,254.2 1298,261.5 1305.3,262.5 1300,267 1302.9,274.8 1295,270 1287.1,274.8 1290,267 1284.7,262.5 1292,261.5"/>
<polygon fill="#f00" stroke="#f00" stroke-width="0.3" shape-rendering="crispEdges" points="1270.5,287.2 1273,294.5 1280.3,295.5 1275,300 1277.9,307.8 1270,303 1262.1,307.8 1265,300 1259.7,295.5 1267,294.5"/>
<polygon fill="#f00" stroke="#f00" stroke-width="0.3" shape-rendering="crispEdges" points="1381.5,310.2 1385,317.5 1392.3,318.5 1387,323 1389.9,330.8 1382,326 1374.1,330.8 1377,323 1371.7,318.5 1379,317.5"/>
<text transform="translate(1391.5,233) scale(1.1,1)" font-size="11.9" text-anchor="middle" stroke-width="0.8">4192</text>
<text transform="translate(1216.5,266) scale(1.1,1)" font-size="11.9" text-anchor="middle" stroke-width="0.8">4191</text>
<text transform="translate(1251.5,253) scale(1.1,1)" font-size="11.9" text-anchor="middle" stroke-width="0.8">4190</text>
<text transform="translate(1295.5,284) scale(1.1,1)" font-size="11.9" text-anchor="middle" stroke-width="0.8">4189</text>
<text transform="translate(1270.5,317) scale(1.1,1)" font-size="11.9" text-anchor="middle" stroke-width="0.8">4188</text>
<text transform="translate(1381.5,340) scale(1.1,1)" font-size="11.9" text-anchor="middle" stroke-width="0.8">4187</text>
</svg></body></html>
